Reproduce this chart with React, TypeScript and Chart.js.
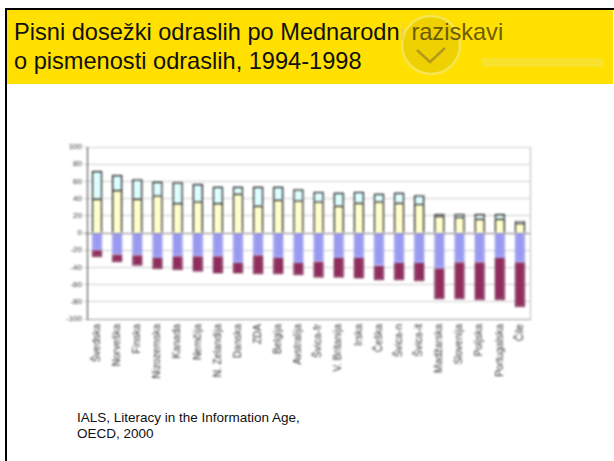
import React, { useEffect, useRef } from "react";
import { Chart, registerables } from "chart.js";

Chart.register(...registerables);

const categories = ["Švedska","Norveška","Finska","Nizozemska","Kanada","Nemčija","N. Zelandija","Danska","ZDA","Belgija","Avstralija","Švica-fr","V. Britanija","Irska","Češka","Švica-n","Švica-it","Madžarska","Slovenija","Poljska","Portugalska","Čile"];
const level3 = [40,50,40,44,35,37,35,46,32,39,38,37,32,35.5,37,35.5,34,20,19,17,17,12];
const level45 = [32,17.5,22.5,16,24,20,19,8,22,15,13,11,15,12.5,9,11.5,10,2,3,5,5,2];
const level2 = [-20,-25,-26,-29,-27,-27,-27,-35,-26,-29,-35,-33,-29,-29,-38,-35,-35,-41,-34,-34,-29,-34];
const level1 = [-8,-9,-12,-13,-16,-18,-20,-12,-22,-19,-14,-19,-23,-24,-17,-20,-21,-36,-43,-44,-49,-52];
const yTicks = [100,80,60,40,20,0,-20,-40,-60,-80,-100];
const titleStart = "Pisni dosežki odraslih po Mednarodn";
const titleFaint = "i ";
const titleGhost = "raziskavi";
const titleEnd = "o pismenosti odraslih, 1994-1998";
const source = ["IALS, Literacy in the Information Age,", "OECD, 2000"];

export default function App() {
  const ref = useRef<HTMLCanvasElement>(null);
  useEffect(() => {
    document.body.style.margin = "0";
    document.body.style.background = "#fff";
    const mk = (label: string, data: number[], backgroundColor: string) => ({
      label, data, backgroundColor, borderColor: "#111", borderWidth: 1.5, stack: "s", categoryPercentage: 0.52, barPercentage: 1,
    });
    const chart = new Chart(ref.current!, {
      type: "bar",
      data: {
        labels: categories,
        datasets: [
          mk("Raven 3", level3, "#ffffcc"),
          mk("Raven 4/5", level45, "#ddffff"),
          { ...mk("Raven 2", level2, "#9999f0"), borderColor: "#9999f0" },
          { ...mk("Raven 1", level1, "#8f2c5c"), borderColor: "#7a2a52" },
        ],
      },
      options: {
        animation: false,
        responsive: false,
        layout: { padding: { top: 12, right: 10, bottom: 0, left: 0 } },
        plugins: { legend: { display: false }, tooltip: { enabled: false } },
        scales: {
          x: {
            stacked: true,
            position: "bottom",
            grid: { display: false, drawTicks: false },
            border: { color: "#999999", width: 1 },
            ticks: { autoSkip: false, maxRotation: 90, minRotation: 90, padding: 5, color: "#333", font: { family: "Liberation Sans", size: 10 } },
            afterFit: (s: any) => { s.height = 66; },
          },
          y: {
            stacked: true,
            min: -100,
            max: 100,
            afterBuildTicks: (s: any) => { s.ticks = yTicks.map((value) => ({ value })); },
            grid: { color: (c: any) => (c.tick.value === 0 ? "#808080" : "#cfcfcf"), lineWidth: 1, drawTicks: true, tickLength: 3 },
            border: { color: "#444", width: 1 },
            ticks: { padding: 2, color: "#333", font: { family: "Liberation Sans", size: 8 } },
            afterFit: (s: any) => { s.width = 47; },
          },
        },
      },
      plugins: [{
        id: "frame",
        afterDraw(c: any) {
          const { ctx, chartArea: a } = c;
          ctx.save();
          ctx.strokeStyle = "#bbbbbb";
          ctx.beginPath();
          ctx.moveTo(a.right + 0.5, a.top);
          ctx.lineTo(a.right + 0.5, a.bottom);
          ctx.stroke();
          ctx.restore();
        },
      }],
    } as any);
    return () => chart.destroy();
  }, []);

  return (
    <div style={{ position: "relative", width: 614, height: 461, overflow: "hidden", background: "#fff", fontFamily: "'Liberation Sans', Arial, sans-serif" }}>
      <div style={{ position: "absolute", left: 5, top: 8, width: 609, height: 453, borderLeft: "2px solid #000", borderTop: "2px solid #000", boxSizing: "border-box" }} />
      <div style={{ position: "absolute", left: 7, top: 10, width: 606, height: 74, background: "#ffe000" }} />
      <svg width={220} height={74} style={{ position: "absolute", left: 395, top: 10 }}>
        <circle cx={36} cy={35} r={29} fill="#efd000" stroke="#f5e550" strokeWidth={2.5} />
        <path d="M22 40 L35 52 L50 38" fill="none" stroke="#b39a1c" strokeWidth={2.5} />
        <rect x={87} y={48} width={122} height={9} fill="#f8e22c" />
      </svg>
      <div style={{ position: "absolute", left: 14, top: 18, fontSize: 23.6, lineHeight: "29px", color: "#111", whiteSpace: "nowrap" }}>
        <div>
          {titleStart}
          <span style={{ color: "#e9d455" }}>{titleFaint}</span>
          <span style={{ color: "#6e5c00" }}>{titleGhost}</span>
        </div>
        <div>{titleEnd}</div>
      </div>
      <canvas ref={ref} width={500} height={250} style={{ position: "absolute", left: 40, top: 135, filter: "blur(0.9px)" }} />
      <div style={{ position: "absolute", left: 77, top: 410, fontSize: 13.5, lineHeight: "16px", color: "#111", whiteSpace: "nowrap" }}>
        {source.map((t) => <div key={t}>{t}</div>)}
      </div>
    </div>
  );
}
